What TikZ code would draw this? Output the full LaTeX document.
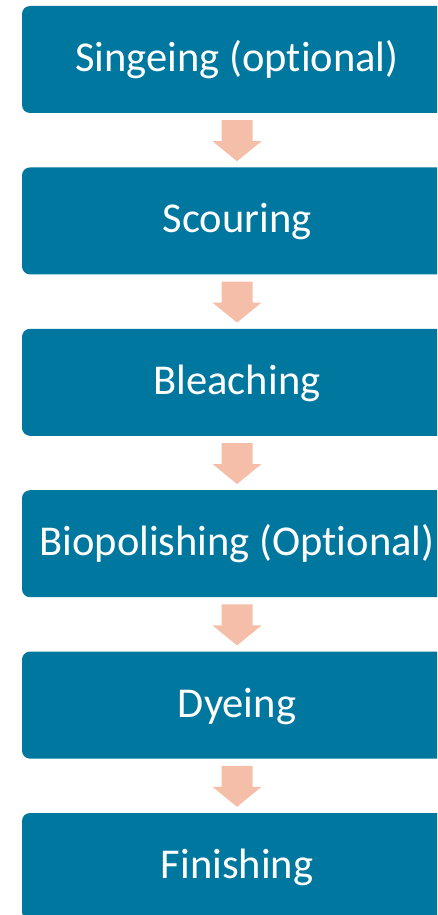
\documentclass[tikz,border=0pt]{standalone}
\usepackage{fontspec}
\setmainfont[Ligatures={NoCommon}]{Carlito}
\usetikzlibrary{calc}
\definecolor{boxblue}{RGB}{0,119,158}
\definecolor{arrowpink}{RGB}{244,190,168}
\tikzset{
  stepbox/.style={fill=boxblue, draw=none, rounded corners=8pt, minimum width=430pt, minimum height=107pt, text=white, font=\fontsize{42.5}{48}\selectfont, inner sep=0pt, text height=30pt, text depth=6pt},
  arrowfill/.style={fill=arrowpink, draw=none}
}
\newcommand\flowarrow[2]{%
  \fill[arrowfill] ($(#1.south)+(-15.5,7)$) -- ($(#1.south)+(15.5,7)$) -- ($(#1.south)+(15.5,28)$) -- ($(#1.south)+(24.5,28)$) -- ($(#2.north)+(0,-6)$) -- ($(#1.south)+(-24.5,28)$) -- ($(#1.south)+(-15.5,28)$) -- cycle;}
\begin{document}
\begin{tikzpicture}[x=1pt,y=-1pt]
\useasboundingbox (0,0) rectangle (437,915);
\clip (0,0) rectangle (437,915);
\node[stepbox] (b1) at (237,59.5) {Singeing (optional)};
\node[stepbox] (b2) at (237,220.9) {Scouring};
\node[stepbox] (b3) at (237,382.3) {Bleaching};
\node[stepbox] (b4) at (237,543.7) {Biopolishing (Optional)};
\node[stepbox] (b5) at (237,705.1) {Dyeing};
\node[stepbox] (b6) at (237,866.5) {Finishing};
\flowarrow{b1}{b2}
\flowarrow{b2}{b3}
\flowarrow{b3}{b4}
\flowarrow{b4}{b5}
\flowarrow{b5}{b6}
\end{tikzpicture}
\end{document}
